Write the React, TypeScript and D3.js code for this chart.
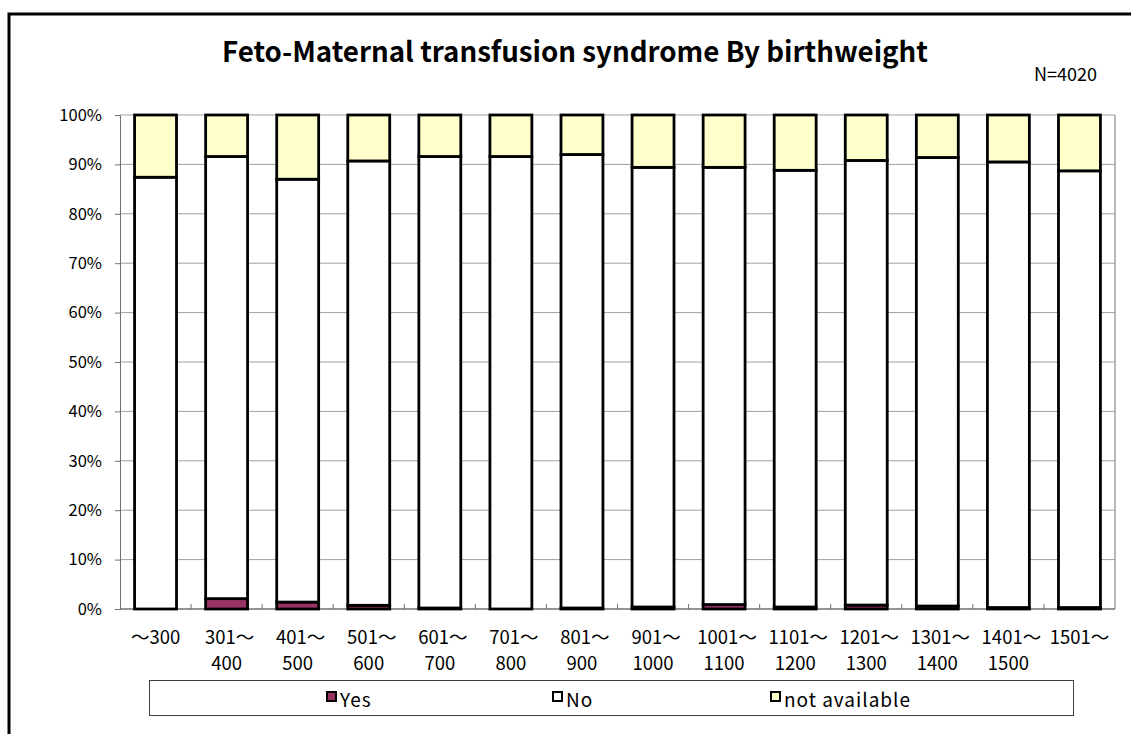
import React, { useRef, useEffect } from "react";
import * as d3 from "d3";

const categories = [
  "～300", "301～|400", "401～|500", "501～|600", "601～|700", "701～|800", "801～|900",
  "901～|1000", "1001～|1100", "1101～|1200", "1201～|1300", "1301～|1400", "1401～|1500", "1501～",
];
const yesPct = [0, 2.1, 1.4, 0.75, 0.2, 0, 0.2, 0.4, 0.9, 0.4, 0.8, 0.6, 0.3, 0.3];
// cumulative top of the "No" segment (Yes + No)
const yesNoPct = [87.4, 91.6, 87.0, 90.7, 91.6, 91.6, 92.0, 89.4, 89.4, 88.8, 90.8, 91.4, 90.5, 88.7];
const seriesNames = ["Yes", "No", "not available"];
const seriesColors = ["#993366", "#ffffff", "#ffffcc"];
const yTicks = [0, 10, 20, 30, 40, 50, 60, 70, 80, 90, 100];

const FONT = "'Noto Sans CJK JP', 'Noto Sans', sans-serif";

const App = () => {
  const ref = useRef<SVGSVGElement>(null);
  const width = 1131;
  const height = 734;

  useEffect(() => {
    const svg = d3.select(ref.current);
    svg.selectAll("*").remove();

    const margin = { top: 115, right: 16, bottom: 125, left: 120 };

    // outer frame
    svg.append("rect")
      .attr("x", 9).attr("y", 14)
      .attr("width", width + 20).attr("height", height + 20)
      .attr("fill", "white").attr("stroke", "black").attr("stroke-width", 3);

    svg.append("text")
      .attr("x", 575).attr("y", 62)
      .attr("text-anchor", "middle")
      .attr("font-family", FONT).attr("font-weight", "bold").attr("font-size", 27.5)
      .attr("textLength", 706).attr("lengthAdjust", "spacingAndGlyphs")
      .text("Feto-Maternal transfusion syndrome By birthweight");

    svg.append("text")
      .attr("x", 1097).attr("y", 81)
      .attr("text-anchor", "end")
      .attr("font-family", FONT).attr("font-size", 18)
      .text("N=4020");

    const x = d3.scaleBand()
      .domain(categories)
      .range([margin.left, width - margin.right])
      .paddingInner(0.41)
      .paddingOuter(0.205);

    const y = d3.scaleLinear().domain([0, 100]).range([height - margin.bottom, margin.top]);

    // gridlines
    svg.append("g").selectAll("line").data(yTicks.slice(1)).join("line")
      .attr("x1", margin.left).attr("x2", width - margin.right)
      .attr("y1", (d) => y(d)).attr("y2", (d) => y(d))
      .attr("stroke", "#a0a0a0").attr("stroke-width", 1);
    // right border of plot
    svg.append("line")
      .attr("x1", width - margin.right).attr("x2", width - margin.right)
      .attr("y1", y(100)).attr("y2", y(0))
      .attr("stroke", "#a0a0a0").attr("stroke-width", 1.5);

    // Y axis
    const yAxis = svg.append("g")
      .attr("transform", `translate(${margin.left},0)`)
      .call(d3.axisLeft(y).tickValues(yTicks).tickSize(5).tickFormat((d) => `${d}%`));
    yAxis.select(".domain").attr("stroke", "#707070");
    yAxis.selectAll(".tick line").attr("stroke", "#707070");
    yAxis.selectAll("text")
      .attr("x", -18)
      .attr("font-family", FONT).attr("font-size", 16.5).attr("fill", "black");

    // X axis line and ticks between categories
    svg.append("line")
      .attr("x1", margin.left).attr("x2", width - margin.right)
      .attr("y1", y(0)).attr("y2", y(0))
      .attr("stroke", "#707070").attr("stroke-width", 1.5);
    const step = x.step();
    svg.append("g").selectAll("line").data(categories.slice(1)).join("line")
      .attr("x1", (d) => (x(d) as number) - (step - x.bandwidth()) / 2)
      .attr("x2", (d) => (x(d) as number) - (step - x.bandwidth()) / 2)
      .attr("y1", y(0)).attr("y2", y(0) - 5)
      .attr("stroke", "#707070");

    // stacked bars
    const rows = categories.map((c, i) => ({
      cat: c,
      segs: [
        [0, yesPct[i]],
        [yesPct[i], yesNoPct[i]],
        [yesNoPct[i], 100],
      ],
    }));
    const bars = svg.append("g");
    rows.forEach((r) => {
      r.segs.forEach((s, k) => {
        if (s[1] - s[0] <= 0) return;
        bars.append("rect")
          .attr("x", x(r.cat) as number)
          .attr("y", y(s[1]))
          .attr("width", x.bandwidth())
          .attr("height", y(s[0]) - y(s[1]))
          .attr("fill", seriesColors[k])
          .attr("stroke", "black")
          .attr("stroke-width", 2.8);
      });
    });

    // x labels
    const xl = svg.append("g").selectAll("text").data(categories).join("text")
      .attr("text-anchor", "middle")
      .attr("font-family", FONT).attr("font-size", 18.5);
    xl.each(function (d) {
      const parts = d.split("|");
      const t = d3.select(this);
      const cx = (x(d) as number) + x.bandwidth() / 2;
      parts.forEach((p, i) => {
        t.append("tspan")
          .attr("x", i === 0 && parts.length > 1 ? cx + 3 : cx)
          .attr("y", 644 + i * 26)
          .text(p);
      });
    });

    // legend
    svg.append("rect")
      .attr("x", 149.5).attr("y", 680.5).attr("width", 924).attr("height", 35)
      .attr("fill", "white").attr("stroke", "#404040").attr("stroke-width", 1);
    const legendX = [327, 553, 771];
    seriesNames.forEach((name, i) => {
      svg.append("rect")
        .attr("x", legendX[i]).attr("y", 692)
        .attr("width", 9).attr("height", 9)
        .attr("fill", seriesColors[i]).attr("stroke", "black").attr("stroke-width", 2);
      svg.append("text")
        .attr("x", legendX[i] + 13).attr("y", 707)
        .attr("font-family", FONT).attr("font-size", 19)
        .attr("letter-spacing", 1)
        .text(name);
    });
  }, []);

  return (
    <svg
      ref={ref}
      width={width}
      height={height}
      style={{ position: "absolute", left: 0, top: 0 }}
    />
  );
};

export default App;
